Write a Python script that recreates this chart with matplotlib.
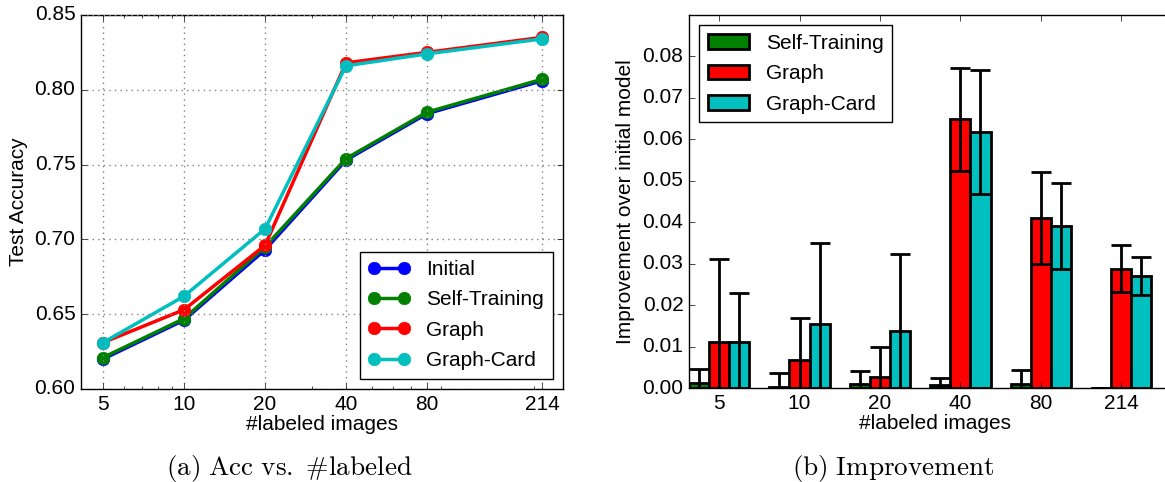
# plot.py
# Two panels: test accuracy vs number of labeled images, and improvement over the initial model.

import matplotlib
matplotlib.use("Agg")
import matplotlib.pyplot as plt
from matplotlib.ticker import FixedLocator, FixedFormatter, NullFormatter, FormatStrFormatter
import numpy as np

# Data
labeled_counts = [5, 10, 20, 40, 80, 214]
count_labels = ["5", "10", "20", "40", "80", "214"]

acc_initial = [0.620, 0.646, 0.693, 0.753, 0.784, 0.806]
acc_self_training = [0.621, 0.647, 0.695, 0.754, 0.785, 0.807]
acc_graph = [0.631, 0.653, 0.696, 0.818, 0.825, 0.835]
acc_graph_card = [0.631, 0.662, 0.707, 0.816, 0.824, 0.834]

imp_self_training = [0.0013, 0.0002, 0.0010, 0.0008, 0.0010, 0.0]
err_self_training = [0.0033, 0.0035, 0.0032, 0.0017, 0.0034, 0.0]
imp_graph = [0.0112, 0.0068, 0.0026, 0.0648, 0.0410, 0.0288]
err_graph = [0.0200, 0.0100, 0.0074, 0.0125, 0.0112, 0.0056]
imp_graph_card = [0.0112, 0.0154, 0.0138, 0.0618, 0.0390, 0.0270]
err_graph_card = [0.0116, 0.0196, 0.0186, 0.0149, 0.0104, 0.0045]

# Old matplotlib look
plt.style.use("classic")
plt.rcParams["font.family"] = ["Liberation Sans", "DejaVu Sans"]
plt.rcParams["font.size"] = 15
plt.rcParams["mathtext.fontset"] = "cm"
plt.rcParams["figure.facecolor"] = "white"
plt.rcParams["savefig.facecolor"] = "white"

fig = plt.figure(figsize=(11.65, 4.82), dpi=100)

# ---- (a) accuracy curves ----
ax1 = fig.add_axes([0.0695, 0.193, 0.4137, 0.776])
line_specs = [
    (acc_initial, "b", "Initial"),
    (acc_self_training, "g", "Self-Training"),
    (acc_graph, "r", "Graph"),
    (acc_graph_card, "c", "Graph-Card"),
]
for values, color, name in line_specs:
    ax1.plot(labeled_counts, values, "-o", color=color, lw=2.5, ms=9,
             mec=color, mfc=color, label=name)

ax1.set_xscale("log")
ax1.set_xlim(4.14, 256)
ax1.set_ylim(0.60, 0.85)
ax1.xaxis.set_major_locator(FixedLocator(labeled_counts))
ax1.xaxis.set_major_formatter(FixedFormatter(count_labels))
ax1.xaxis.set_minor_formatter(NullFormatter())
ax1.set_yticks(np.arange(0.60, 0.851, 0.05))
ax1.yaxis.set_major_formatter(FormatStrFormatter("%.2f"))
ax1.grid(True, color="0.5", linestyle=":", linewidth=1)
ax1.set_xlabel("#labeled images", labelpad=1)
ax1.set_ylabel("Test Accuracy")
ax1.legend(loc="lower right", fontsize=15, numpoints=2, labelspacing=0.55,
           handlelength=2.0, borderaxespad=0.5)

# ---- (b) improvement bars ----
ax2 = fig.add_axes([0.5914, 0.195, 0.4215, 0.774])
x = np.arange(len(labeled_counts))
width = 0.25
err_style = dict(ecolor="k", lw=2, capsize=7.5, capthick=2)
bar_specs = [
    (-width, imp_self_training, err_self_training, "g", "Self-Training"),
    (0.0, imp_graph, err_graph, "r", "Graph"),
    (width, imp_graph_card, err_graph_card, "c", "Graph-Card"),
]
for offset, vals, errs, color, name in bar_specs:
    ax2.bar(x + offset, vals, width, yerr=errs, color=color, edgecolor="k",
            linewidth=2, align="center", error_kw=err_style, label=name)

ax2.set_xlim(-0.375, -0.375 + 491 / 80.4)
ax2.set_ylim(0, 0.09)
ax2.set_xticks(x)
ax2.set_xticklabels(count_labels)
ax2.set_yticks(np.arange(0, 0.081, 0.01))
ax2.yaxis.set_major_formatter(FormatStrFormatter("%.2f"))
ax2.set_xlabel("#labeled images", labelpad=1)
ax2.set_ylabel("Improvement over initial model")
ax2.legend(loc="upper left", fontsize=15, labelspacing=0.55,
           handlelength=2.0, borderaxespad=0.5)

# ---- sub-captions ----
fig.text(0.248, 0.0145, r"$\mathrm{(a)\ Acc\ vs.\ }\#\mathrm{labeled}$", ha="center", va="baseline", fontsize=19.5)
fig.text(0.7665, 0.0145, r"$\mathrm{(b)\ Improvement}$", ha="center", va="baseline", fontsize=19.5)

plt.savefig("out.png", dpi=100)
